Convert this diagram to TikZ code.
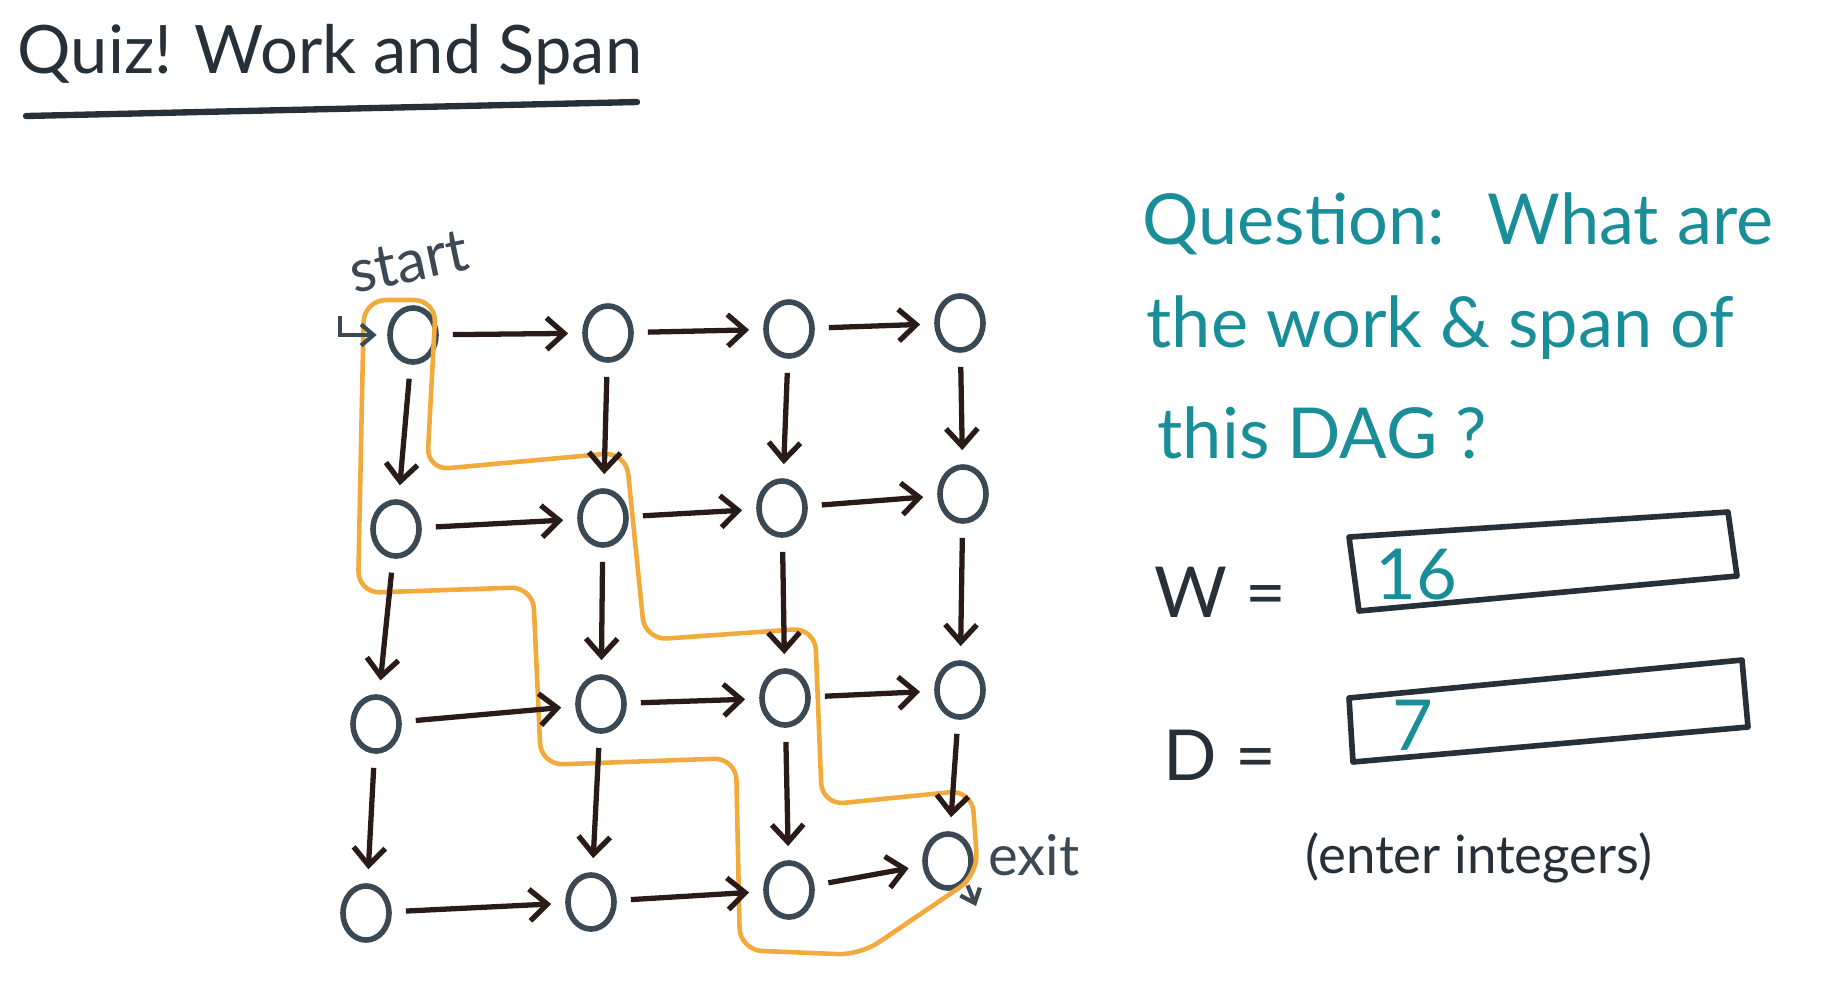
\documentclass[tikz,border=0pt]{standalone}
\usepackage{fontspec}
\setmainfont{Lato}
\usetikzlibrary{arrows.meta,shapes.geometric}
\definecolor{inkgray}{HTML}{3B4955}
\definecolor{inkbrown}{HTML}{2A1B16}
\definecolor{titleink}{HTML}{263038}
\definecolor{pathorange}{HTML}{F2AA3C}
\definecolor{quizteal}{HTML}{1A8E98}

\begin{document}
\begin{tikzpicture}[x=0.01cm,y=-0.01cm,
  vert/.style={draw=inkgray,line width=1.6pt,ellipse,minimum width=0.46cm,minimum height=0.54cm,inner sep=0pt},
  edge/.style={draw=inkbrown,line width=1.5pt,-{Straight Barb[length=5pt,width=9pt]},shorten <=4pt,shorten >=4pt},
  pointer/.style={draw=inkgray,line width=1.2pt,-{Straight Barb[length=3.5pt,width=6pt]}},
  answerbox/.style={draw=titleink,line width=1.6pt,line join=round},
  handtext/.style={text=titleink,inner sep=0pt}]
  \useasboundingbox (0,0) rectangle (1824,990);
  % title
  \node[handtext,anchor=west,font=\fontsize{19}{22}\selectfont] (title) at (17,55) {Quiz! Work and Span};
  \draw[titleink,line width=1.8pt,line cap=round] (26,116) -- (637,102);
  % the DAG, one node per grid point
  \foreach \name/\x/\y in {11/413/335,12/608/333,13/789/329,14/960/323,
                           21/396/529,22/603/518,23/782/508,24/963/494,
                           31/376/724,32/601/704,33/785/698,34/960/690,
                           41/366/913,42/591/902,43/789/890,44/948/861}
    \node[vert] (n\name) at (\x,\y) {};
  % critical path
  \draw[pathorange,line width=1.3pt,rounded corners=0.22cm]
    (400,300) -- (436,300) -- (427,470) -- (626,452) -- (645,640) -- (815,628)
    -- (822,805) -- (972,790) -- (978,875) -- (860,955) -- (740,950) -- (736,758)
    -- (541,765) -- (533,587) -- (358,593) -- (364,300) -- (400,300);
  % edges
  \foreach \r in {1,...,4}
    \foreach \c/\d in {1/2,2/3,3/4}
      \draw[edge] (n\r\c) -- (n\r\d);
  \foreach \c in {1,...,4}
    \foreach \r/\s in {1/2,2/3,3/4}
      \draw[edge] (n\r\c) -- (n\s\c);
  % start and exit
  \node[handtext,text=inkgray,rotate=12,font=\fontsize{17}{20}\selectfont] (startlbl) at (409,262) {start};
  \coordinate (startin) at (340,316);
  \draw[pointer,shorten >=3pt] (startin) |- (n11.west);
  \coordinate (exitout) at (976,906);
  \draw[pointer,shorten <=1pt] (n44.south east) -- (exitout);
  \node[handtext,text=inkgray,font=\fontsize{16}{19}\selectfont] (exitlbl) at (1034,855) {exit};
  % question
  \begin{scope}[every node/.style={text=quizteal,anchor=west,inner sep=0pt,font=\fontsize{20}{24}\selectfont}]
    \node (qa) at (1142,224) {Question:\hspace{0.6em}What are};
    \node (qb) at (1146,328) {the work \& span of};
    \node (qc) at (1157,433) {this DAG ?};
  \end{scope}
  % answers
  \node[handtext,font=\fontsize{20}{24}\selectfont] (wlbl) at (1220,592) {W =};
  \node[handtext,font=\fontsize{20}{24}\selectfont] (dlbl) at (1220,755) {D =};
  \draw[answerbox] (1349,537) -- (1728,512) -- (1737,576) -- (1359,611) -- cycle;
  \draw[answerbox] (1349,698) -- (1742,660) -- (1748,727) -- (1353,762) -- cycle;
  \node[text=quizteal,font=\fontsize{20}{24}\selectfont] (wval) at (1416,575) {16};
  \node[text=quizteal,font=\fontsize{20}{24}\selectfont] (dval) at (1413,725) {7};
  \node[handtext,font=\fontsize{15}{18}\selectfont] (hint) at (1479,858) {(enter integers)};
\end{tikzpicture}
\end{document}
